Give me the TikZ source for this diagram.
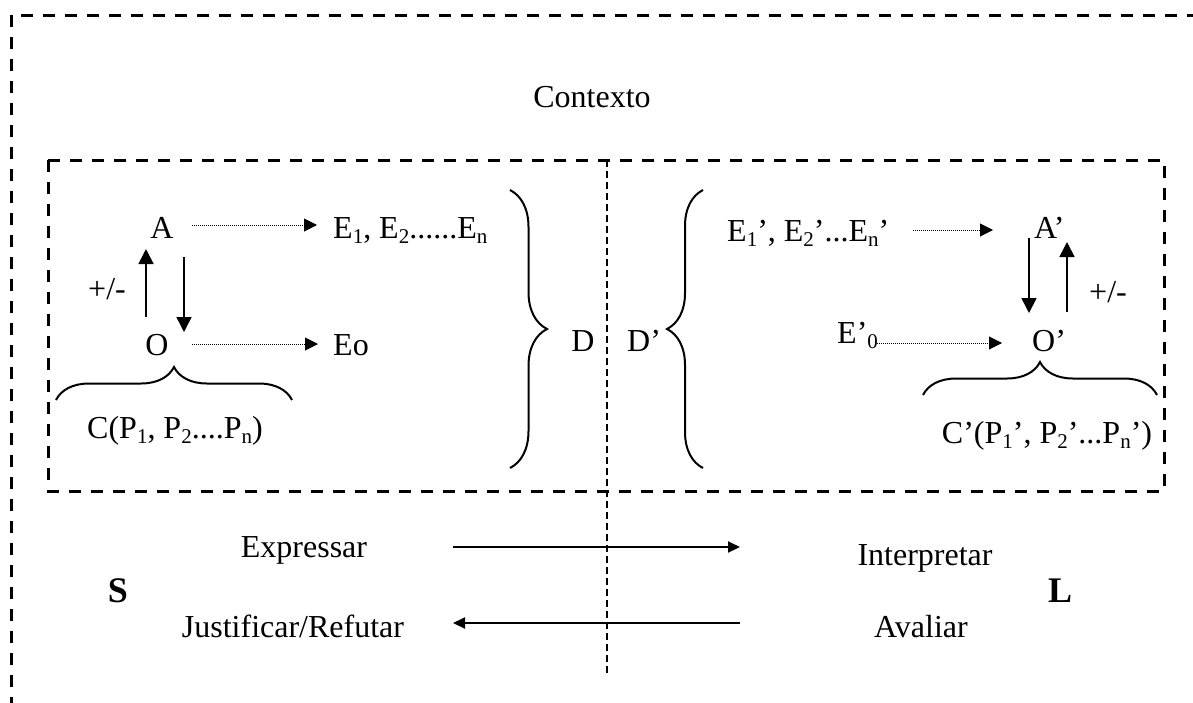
\documentclass[tikz,border=0pt]{standalone}
\usepackage{fontspec}
\setmainfont{Liberation Serif}
\usetikzlibrary{arrows.meta,decorations.pathreplacing}
% lowered small index, as in E_1 or P_n
\newcommand\lowidx[1]{\raisebox{-0.16em}{\fontsize{21}{21}\selectfont #1}}
\begin{document}
\begin{tikzpicture}[x=1pt,y=-1pt,
  every node/.style={inner sep=0pt,font=\fontsize{32}{38}\selectfont},
  party/.style={font=\fontsize{36}{42}\selectfont\bfseries},
  frame/.style={line width=3pt,dash pattern=on 12pt off 10pt},
  divider/.style={line width=1.4pt,dash pattern=on 7pt off 4pt},
  dotarrow/.style={line width=1pt,dash pattern=on 1pt off 1pt,
    -{Triangle[length=13pt,width=13pt]}},
  feedarrow/.style={line width=1.6pt,-{Triangle[length=15pt,width=15pt]}},
  flowarrow/.style={line width=2pt,-{Triangle[length=12pt,width=11pt]}},
  bracket/.style={line width=2pt,decorate,decoration={brace,amplitude=#1}}]

\fill[white] (0,0) rectangle (1193,702);
\clip (0,0) rectangle (1193,702);

% outer context frame (runs past the page on the right and bottom)
\draw[frame] (11,15) rectangle (1215,725);
\node (ctx) at (592,97) {Contexto};

% inner frame and the dividing line
\draw[frame] (48,160) rectangle (1164,491);
\coordinate (divtop) at (607,160);
\coordinate (divbot) at (607,673);
\draw[divider] (divtop) -- (divbot);

% ---- speaker side ----
\node[anchor=base] (A) at (162,238) {A};
\node[anchor=base west] (E) at (333,238) {E\lowidx{1}, E\lowidx{2}......E\lowidx{n}};
\node[anchor=base] (O) at (157,355) {O};
\node[anchor=base west] (Eo) at (333,355) {Eo};
\node (pm) at (107,289) {+/-};
\coordinate (aE1) at (192,225);  \coordinate (aE2) at (317,225);
\coordinate (oE1) at (192,344);  \coordinate (oE2) at (318,344);
\draw[dotarrow] (aE1) -- (aE2);
\draw[dotarrow] (oE1) -- (oE2);
\coordinate (up1) at (146,317);  \coordinate (up2) at (146,249);
\coordinate (dn1) at (184,257);  \coordinate (dn2) at (184,332);
\draw[feedarrow] (up1) -- (up2);
\draw[feedarrow] (dn1) -- (dn2);
\coordinate (bl1) at (56,400);   \coordinate (bl2) at (292,400);
\draw[bracket=33pt] (bl1) -- (bl2);
\node[anchor=base] (C) at (175,438) {C(P\lowidx{1}, P\lowidx{2}....P\lowidx{n})};

% discourse braces
\coordinate (Db1) at (510,190);  \coordinate (Db2) at (510,468);
\draw[bracket=37pt] (Db1) -- (Db2);
\node[anchor=base] (D) at (583,351) {D};
\node[anchor=base west] (D2) at (627,351) {D’};
\coordinate (Dc1) at (703,468);  \coordinate (Dc2) at (703,190);
\draw[bracket=36pt] (Dc1) -- (Dc2);

% ---- listener side ----
\node[anchor=base west] (E2) at (727,241) {E\lowidx{1}’, E\lowidx{2}’...E\lowidx{n}’};
\node[anchor=base west] (A2) at (1034,238) {A’};
\node[anchor=base west] (Eo2) at (837,343) {E’\lowidx{0}};
\node[anchor=base west] (O2) at (1032,351) {O’};
\node (pm2) at (1108,292) {+/-};
\coordinate (rE1) at (913,230);  \coordinate (rE2) at (993,230);
\coordinate (rO1) at (875,343);  \coordinate (rO2) at (1002,343);
\draw[dotarrow] (rE1) -- (rE2);
\draw[dotarrow] (rO1) -- (rO2);
\coordinate (rdn1) at (1029,238); \coordinate (rdn2) at (1029,313);
\coordinate (rup1) at (1067,312); \coordinate (rup2) at (1067,242);
\draw[feedarrow] (rdn1) -- (rdn2);
\draw[feedarrow] (rup1) -- (rup2);
\coordinate (br1) at (923,395);  \coordinate (br2) at (1157,395);
\draw[bracket=33pt] (br1) -- (br2);
\node[anchor=base] (C2) at (1047,443) {C’(P\lowidx{1}’, P\lowidx{2}’...P\lowidx{n}’)};

% ---- exchange between S and L ----
\node[anchor=base,party] (S) at (118,602) {S};
\node[anchor=base,party] (L) at (1060,602) {L};
\node[anchor=base] (expr) at (304,557) {Expressar};
\node[anchor=base] (interp) at (925,565) {Interpretar};
\node[anchor=base] (just) at (293,637) {Justificar/Refutar};
\node[anchor=base] (aval) at (921,637) {Avaliar};
\coordinate (f1) at (453,547);   \coordinate (f2) at (740,547);
\coordinate (g1) at (740,623);   \coordinate (g2) at (453,623);
\draw[flowarrow] (f1) -- (f2);
\draw[flowarrow] (g1) -- (g2);
\end{tikzpicture}
\end{document}
